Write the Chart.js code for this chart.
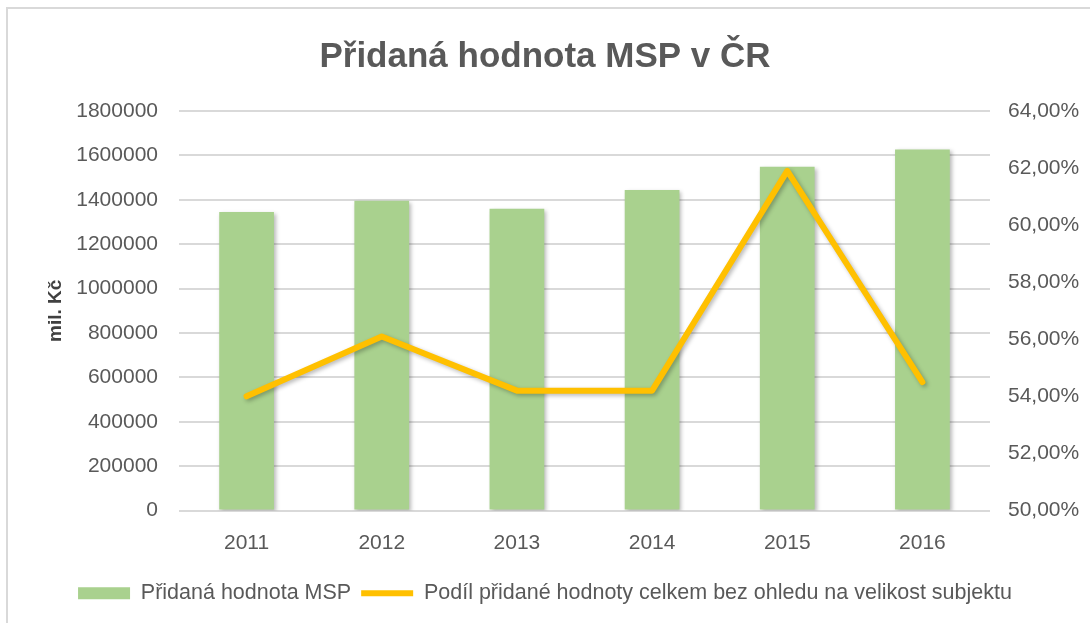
<!DOCTYPE html>
<html>
<head>
<meta charset="utf-8">
<script src="https://cdn.jsdelivr.net/npm/chart.js@4/dist/chart.umd.min.js"></script>
<style>
    html, body { margin: 0; padding: 0; background: #fff; }
    #wrap { position: relative; width: 1090px; height: 623px; overflow: hidden; }
    #frame { position: absolute; left: 6px; top: 7px; right: -4px; bottom: -4px;
             border-left: 2px solid #d9d9d9; border-top: 2px solid #d9d9d9; }
    canvas { position: absolute; left: 0; top: 0; }
</style>
</head>
<body>
<div id="wrap">
    <div id="frame"></div>
    <canvas id="chart" width="1090" height="623"></canvas>
</div>
<script>
// data
const years = ['2011', '2012', '2013', '2014', '2015', '2016']
const pridana_hodnota = [1345000, 1396000, 1360000, 1444000, 1549000, 1627000]
const podil = [54.0, 56.1, 54.2, 54.2, 61.9, 54.5]

const bar_label = 'Přidaná hodnota MSP'
const line_label = 'Podíl přidané hodnoty celkem bez ohledu na velikost subjektu'

const font_family = "'Liberation Sans', Arial, sans-serif"
const grey = '#595959'

// soft drop shadow like the office chart
const shadow_plugin = {
    id: 'shadow',
    beforeDatasetDraw(chart, args) {
        const ctx = chart.ctx
        ctx.save()
        ctx.shadowColor = 'rgba(0, 0, 0, 0.28)'
        ctx.shadowBlur = 4
        ctx.shadowOffsetX = 2
        ctx.shadowOffsetY = 2
    },
    afterDatasetDraw(chart) {
        chart.ctx.restore()
    }
}

document.addEventListener('DOMContentLoaded', function () {
    const ctx = document.getElementById('chart').getContext('2d')

    new Chart(ctx, {
        type: 'bar',
        data: {
            labels: years,
            datasets: [{
                type: 'bar',
                label: bar_label,
                data: pridana_hodnota,
                backgroundColor: '#a9d18e',
                yAxisID: 'y',
                categoryPercentage: 1,
                barPercentage: 0.405,
                order: 1
            }, {
                type: 'line',
                label: line_label,
                data: podil,
                borderColor: '#ffc000',
                backgroundColor: '#ffc000',
                borderWidth: 6,
                borderJoinStyle: 'round',
                borderCapStyle: 'round',
                pointRadius: 0,
                tension: 0,
                yAxisID: 'y1',
                order: 0
            }]
        },
        options: {
            responsive: false,
            animation: false,
            layout: { padding: { left: 0, right: 0, top: 0, bottom: 9 } },
            plugins: {
                title: {
                    display: true,
                    text: 'Přidaná hodnota MSP v ČR',
                    color: grey,
                    font: { family: font_family, size: 35, weight: 'bold' },
                    padding: { top: 36, bottom: 33 }
                },
                legend: {
                    position: 'bottom',
                    labels: {
                        color: grey,
                        font: { family: font_family, size: 21.5 },
                        usePointStyle: true,
                        pointStyleWidth: 52,
                        boxHeight: 12,
                        padding: 10,
                        generateLabels: function (chart) {
                            const items = Chart.defaults.plugins.legend.labels.generateLabels(chart)
                            items.sort((a, b) => a.datasetIndex - b.datasetIndex)
                            items.forEach(item => {
                                if (item.datasetIndex === 0) {
                                    item.pointStyle = 'rect'
                                    item.lineWidth = 0
                                } else {
                                    item.pointStyle = 'line'
                                    item.lineWidth = 6
                                    item.strokeStyle = '#ffc000'
                                }
                            })
                            return items
                        }
                    }
                },
                tooltip: { enabled: false }
            },
            scales: {
                x: {
                    grid: { display: false },
                    border: { display: false },
                    ticks: {
                        color: grey,
                        padding: 12,
                        font: { family: font_family, size: 21 }
                    },
                    afterFit: function (scale) { scale.height = 62 }
                },
                y: {
                    position: 'left',
                    min: 0,
                    max: 1800000,
                    ticks: {
                        stepSize: 200000,
                        color: grey,
                        padding: 21,
                        font: { family: font_family, size: 21 },
                        callback: value => String(value)
                    },
                    grid: { color: '#d9d9d9', lineWidth: 2, drawTicks: false },
                    border: { display: false },
                    title: {
                        display: true,
                        text: 'mil. Kč',
                        color: '#404040',
                        font: { family: font_family, size: 19, weight: 'bold' },
                        padding: { top: 44, bottom: 0 }
                    },
                    afterFit: function (scale) { scale.width = 179 }
                },
                y1: {
                    position: 'right',
                    min: 50,
                    max: 64,
                    ticks: {
                        stepSize: 2,
                        color: grey,
                        padding: 18,
                        font: { family: font_family, size: 21 },
                        callback: value => value.toFixed(2).replace('.', ',') + '%'
                    },
                    grid: { display: false, drawTicks: false },
                    border: { display: false },
                    afterFit: function (scale) { scale.width = 100 }
                }
            }
        },
        plugins: [shadow_plugin]
    })
})
</script>
</body>
</html>
